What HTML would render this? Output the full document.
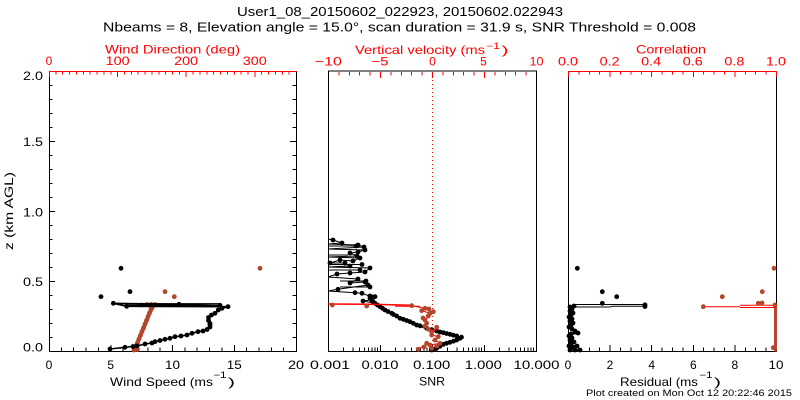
<!DOCTYPE html>
<html><head><meta charset="utf-8"><style>
html,body{margin:0;padding:0;background:#fff;}
svg{display:block;}
text{font-family:"Liberation Sans",sans-serif;}
circle{r:2.4px;}
</style></head><body>
<svg width="800" height="400" viewBox="0 0 800 400" xmlns="http://www.w3.org/2000/svg">
<rect width="800" height="400" fill="#fff"/>
<!-- Titles -->
<text x="237" y="16" font-size="13" textLength="326" lengthAdjust="spacingAndGlyphs">User1_08_20150602_022923, 20150602.022943</text>
<text x="103" y="31.5" font-size="13" textLength="593" lengthAdjust="spacingAndGlyphs">Nbeams = 8, Elevation angle = 15.0°, scan duration = 31.9 s, SNR Threshold = 0.008</text>

<!-- ================= LEFT PANEL ================= -->
<g fill="none" stroke="#000" stroke-width="1" shape-rendering="crispEdges">
<path d="M49.5,71 V351.5 H296.5 V71"/>
<path d="M49.5,351v-6M61.35,351v-3.5M73.7,351v-3.5M86.05,351v-3.5M98.4,351v-3.5M110.75,351v-6M123.1,351v-3.5M135.45,351v-3.5M147.8,351v-3.5M160.15,351v-3.5M172.5,351v-6M184.85,351v-3.5M197.2,351v-3.5M209.55,351v-3.5M221.9,351v-3.5M234.25,351v-6M246.6,351v-3.5M258.95,351v-3.5M271.3,351v-3.5M283.65,351v-3.5"/>
<path d="M49,71.5h6M49,85.5h3.5M49,99.5h3.5M49,113.5h3.5M49,127.5h3.5M49,141.5h6M49,155.5h3.5M49,169.5h3.5M49,183.5h3.5M49,197.5h3.5M49,211.5h6M49,225.5h3.5M49,239.5h3.5M49,253.5h3.5M49,267.5h3.5M49,281.5h6M49,295.5h3.5M49,309.5h3.5M49,323.5h3.5M49,337.5h3.5"/>
<path d="M296,141.5h-6M296,85.5h-3.5M296,99.5h-3.5M296,113.5h-3.5M296,127.5h-3.5M296,155.5h-3.5M296,169.5h-3.5M296,183.5h-3.5M296,197.5h-3.5M296,211.5h-6M296,225.5h-3.5M296,239.5h-3.5M296,253.5h-3.5M296,267.5h-3.5M296,281.5h-6M296,295.5h-3.5M296,309.5h-3.5M296,323.5h-3.5M296,337.5h-3.5"/>
</g>
<g fill="none" stroke="#f00" stroke-width="1" shape-rendering="crispEdges">
<path d="M49,71.5H297"/>
<path d="M49.5,71v6M55.86,71v3.5M62.72,71v3.5M69.58,71v3.5M76.44,71v3.5M83.31,71v3.5M90.17,71v3.5M97.03,71v3.5M103.89,71v3.5M110.75,71v3.5M117.61,71v6M124.47,71v3.5M131.33,71v3.5M138.19,71v3.5M145.06,71v3.5M151.92,71v3.5M158.78,71v3.5M165.64,71v3.5M172.5,71v3.5M179.36,71v3.5M186.22,71v6M193.08,71v3.5M199.94,71v3.5M206.81,71v3.5M213.67,71v3.5M220.53,71v3.5M227.39,71v3.5M234.25,71v3.5M241.11,71v3.5M247.97,71v3.5M254.83,71v6M261.69,71v3.5M268.56,71v3.5M275.42,71v3.5M282.28,71v3.5M289.14,71v3.5"/>
</g>
<g font-size="12" fill="#000">
<text x="43" y="80" text-anchor="end" textLength="20" lengthAdjust="spacingAndGlyphs">2.0</text>
<text x="43" y="146" text-anchor="end" textLength="20" lengthAdjust="spacingAndGlyphs">1.5</text>
<text x="43" y="216.5" text-anchor="end" textLength="20" lengthAdjust="spacingAndGlyphs">1.0</text>
<text x="43" y="286" text-anchor="end" textLength="20" lengthAdjust="spacingAndGlyphs">0.5</text>
<text x="43" y="351.5" text-anchor="end" textLength="20" lengthAdjust="spacingAndGlyphs">0.0</text>
<text transform="translate(13,211) rotate(-90)" text-anchor="middle" textLength="78" lengthAdjust="spacingAndGlyphs">z (km AGL)</text>
<text x="49" y="369" text-anchor="middle">0</text>
<text x="110.75" y="369" text-anchor="middle">5</text>
<text x="172.5" y="369" text-anchor="middle" textLength="15" lengthAdjust="spacingAndGlyphs">10</text>
<text x="234.25" y="369" text-anchor="middle" textLength="15" lengthAdjust="spacingAndGlyphs">15</text>
<text x="296" y="369" text-anchor="middle" textLength="16" lengthAdjust="spacingAndGlyphs">20</text>
<text x="110" y="386" textLength="103" lengthAdjust="spacingAndGlyphs">Wind Speed (ms</text>
<text x="213.5" y="378" font-size="9" textLength="13" lengthAdjust="spacingAndGlyphs">−1</text>
<text x="228" y="386" textLength="7" lengthAdjust="spacingAndGlyphs">)</text>
</g>
<g font-size="12" fill="#f00">
<text x="105" y="53.5" textLength="135" lengthAdjust="spacingAndGlyphs">Wind Direction (deg)</text>
<text x="49" y="65" text-anchor="middle">0</text>
<text x="117.6" y="65" text-anchor="middle" textLength="24" lengthAdjust="spacingAndGlyphs">100</text>
<text x="186.2" y="65" text-anchor="middle" textLength="24" lengthAdjust="spacingAndGlyphs">200</text>
<text x="254.8" y="65" text-anchor="middle" textLength="24" lengthAdjust="spacingAndGlyphs">300</text>
</g>
<!-- left data: red wind direction -->
<g fill="#b4462d" stroke="none">
<polyline points="134,350 138,341 142,331.5 146,322 150,312 153.5,305.5" fill="none" stroke="#b4462d" stroke-width="4"/>
<circle cx="134" cy="350" r="2"/><circle cx="137.5" cy="349.5" r="2"/><circle cx="136" cy="346.5" r="2"/><circle cx="137.5" cy="343" r="2"/>
<circle cx="139" cy="339" r="2"/><circle cx="140.5" cy="335.5" r="2"/><circle cx="142" cy="331.5" r="2"/><circle cx="143.5" cy="328" r="2"/>
<circle cx="145" cy="324" r="2"/><circle cx="146.5" cy="320.5" r="2"/><circle cx="148" cy="316.5" r="2"/><circle cx="149.5" cy="313" r="2"/>
<circle cx="151" cy="309" r="2"/><circle cx="153" cy="306" r="2"/><circle cx="155" cy="304.5" r="2"/><circle cx="151" cy="304.5" r="2"/>
<circle cx="147" cy="304.5" r="2"/><circle cx="141.7" cy="305" r="2"/>
<circle cx="165" cy="291.7" r="2"/><circle cx="174.3" cy="296.7" r="2"/><circle cx="260" cy="268.3" r="2"/>
</g>
<!-- left data: black wind speed -->
<g fill="#000">
<polyline fill="none" stroke="#000" stroke-width="1.6" points="110,349 125,347.3 133,346.5 137,346 145,344 152,343 155,341.7 160,340.5 165,339.3 170,338.3 175,336.7 181,336 187,335 192,333.3 198,331.7 203,331 207,329.5 210,327 210,323.5 208.5,320.5 208.5,317.5 211.5,315 215,313.3 218.3,310 222,308.3 228,306.7 126.7,306.3 113.3,303.3 179,304.3 220,305.3"/>
<line x1="127" y1="305.2" x2="222" y2="305.2" stroke="#000" stroke-width="1.5"/>
<line x1="115" y1="303.6" x2="220" y2="303.6" stroke="#000" stroke-width="1"/>
<circle cx="110" cy="349" r="2"/><circle cx="125" cy="347.3" r="2"/><circle cx="133" cy="346.5" r="2"/><circle cx="137" cy="346" r="2"/>
<circle cx="145" cy="344" r="2"/><circle cx="152" cy="343" r="2"/><circle cx="155" cy="341.7" r="2"/><circle cx="160" cy="340.5" r="2"/>
<circle cx="165" cy="339.3" r="2"/><circle cx="170" cy="338.3" r="2"/><circle cx="175" cy="336.7" r="2"/><circle cx="181" cy="336" r="2"/>
<circle cx="187" cy="335" r="2"/><circle cx="192" cy="333.3" r="2"/><circle cx="198" cy="331.7" r="2"/><circle cx="203" cy="331" r="2"/>
<circle cx="207" cy="329.5" r="2"/><circle cx="210" cy="327" r="2"/><circle cx="210" cy="325" r="2"/><circle cx="210" cy="323.5" r="2"/>
<circle cx="208.5" cy="320.5" r="2"/><circle cx="208.5" cy="317.5" r="2"/><circle cx="211.5" cy="315" r="2"/><circle cx="215" cy="313.3" r="2"/>
<circle cx="218.3" cy="310" r="2"/><circle cx="222" cy="308.3" r="2"/><circle cx="228" cy="306.7" r="2"/><circle cx="220" cy="305.3" r="2"/>
<circle cx="126.7" cy="306.3" r="2"/><circle cx="113.3" cy="303.3" r="2"/><circle cx="179" cy="304.3" r="2"/>
<circle cx="101" cy="296.7" r="2"/><circle cx="130" cy="291.7" r="2"/><circle cx="121" cy="268.3" r="2"/>
</g>

<!-- ================= MIDDLE PANEL ================= -->
<g fill="none" stroke="#000" stroke-width="1" shape-rendering="crispEdges">
<path d="M328.5,71 V351.5 H536.5 V71 H328"/>
<path d="M328.5,351v-6M343.65,351v-3.5M352.81,351v-3.5M359.31,351v-3.5M364.35,351v-3.5M368.46,351v-3.5M371.95,351v-3.5M374.96,351v-3.5M377.62,351v-3.5
M380.5,351v-6M395.65,351v-3.5M404.81,351v-3.5M411.31,351v-3.5M416.35,351v-3.5M420.46,351v-3.5M423.95,351v-3.5M426.96,351v-3.5M429.62,351v-3.5
M432.5,351v-6M447.65,351v-3.5M456.81,351v-3.5M463.31,351v-3.5M468.35,351v-3.5M472.46,351v-3.5M475.95,351v-3.5M478.96,351v-3.5M481.62,351v-3.5
M484.5,351v-6M499.65,351v-3.5M508.81,351v-3.5M515.31,351v-3.5M520.35,351v-3.5M524.46,351v-3.5M527.95,351v-3.5M530.96,351v-3.5M533.62,351v-3.5"/>
</g>
<g fill="none" stroke="#f00" stroke-width="1" shape-rendering="crispEdges">
<path d="M338.9,72v3.5M349.3,72v3.5M359.7,72v3.5M370.1,72v3.5M380.5,72v6M390.9,72v3.5M401.3,72v3.5M411.7,72v3.5M422.1,72v3.5M432.5,72v6M442.9,72v3.5M453.3,72v3.5M463.7,72v3.5M474.1,72v3.5M484.5,72v6M494.9,72v3.5M505.3,72v3.5M515.7,72v3.5M526.1,72v3.5"/>
<line x1="432.5" y1="72" x2="432.5" y2="351" stroke-dasharray="1,3"/>
</g>
<g font-size="12" fill="#000">
<text x="330" y="369" text-anchor="middle" textLength="40" lengthAdjust="spacingAndGlyphs">0.001</text>
<text x="380" y="369" text-anchor="middle" textLength="37" lengthAdjust="spacingAndGlyphs">0.010</text>
<text x="431.7" y="369" text-anchor="middle" textLength="37" lengthAdjust="spacingAndGlyphs">0.100</text>
<text x="483.3" y="369" text-anchor="middle" textLength="37" lengthAdjust="spacingAndGlyphs">1.000</text>
<text x="536.5" y="369" text-anchor="middle" textLength="46" lengthAdjust="spacingAndGlyphs">10.000</text>
<text x="432" y="385.5" text-anchor="middle" textLength="26" lengthAdjust="spacingAndGlyphs">SNR</text>
</g>
<g font-size="12" fill="#f00">
<text x="355" y="54" textLength="130" lengthAdjust="spacingAndGlyphs">Vertical velocity (ms</text>
<text x="486" y="49" font-size="9" textLength="14" lengthAdjust="spacingAndGlyphs">−1</text>
<text x="501.5" y="54" textLength="7" lengthAdjust="spacingAndGlyphs">)</text>
<text x="328.3" y="65.5" text-anchor="middle" textLength="27" lengthAdjust="spacingAndGlyphs">−10</text>
<text x="380" y="65.5" text-anchor="middle" textLength="17" lengthAdjust="spacingAndGlyphs">−5</text>
<text x="432.5" y="65.5" text-anchor="middle">0</text>
<text x="483.5" y="65.5" text-anchor="middle">5</text>
<text x="536.5" y="65.5" text-anchor="middle" textLength="14" lengthAdjust="spacingAndGlyphs">10</text>
</g>
<!-- middle data black SNR -->
<g fill="#000">
<polyline fill="none" stroke="#000" stroke-width="1" points="375,303.3 363,301 370,300 372,297 362,293.3 355,292.7 328,291 338,289.3 368,285 365,282 350,283 358,279 328,277 337,274 350,273 365,272 370,268 328,267 350,266 345,263 330,263 340,260 353,261 360,258 328,257 357,256 350,253 358,252 365,250 328,249 364,247 358,245 328,244 342,243 333,240 328,239"/>
<line x1="328" y1="264.5" x2="362" y2="264.5" stroke="#000"/>
<line x1="328" y1="270" x2="360" y2="270" stroke="#000"/>
<line x1="328" y1="246" x2="356" y2="246" stroke="#000"/>
<line x1="328" y1="255" x2="348" y2="255" stroke="#000"/>
<line x1="340" y1="281" x2="366" y2="281" stroke="#000"/>
<line x1="340" y1="287" x2="370" y2="287" stroke="#000"/>
<polyline fill="none" stroke="#000" stroke-width="2.2" points="431.7,350 436.7,348.3 443.3,344.3 450,342.3 456.7,340 460,338.3 456.7,336 450,334.3 443.3,332.7 436.7,331 426.7,328.3 413.3,323.3 400,318.3 391.7,313.3 385,310 380,306.7 375,303.3 371.7,300 370,296 375,296.7"/>
<circle cx="431.7" cy="350" r="2"/><circle cx="434" cy="349" r="2"/><circle cx="436.7" cy="348.3" r="2"/><circle cx="440" cy="346.3" r="2"/>
<circle cx="443.3" cy="344.3" r="2"/><circle cx="446.5" cy="343.3" r="2"/><circle cx="450" cy="342.3" r="2"/><circle cx="453.5" cy="341.2" r="2"/>
<circle cx="456.7" cy="340" r="2"/><circle cx="460" cy="338.3" r="2"/><circle cx="461.5" cy="337.2" r="2"/><circle cx="456.7" cy="336" r="2"/>
<circle cx="453.3" cy="335.2" r="2"/><circle cx="450" cy="334.3" r="2"/><circle cx="446.6" cy="333.5" r="2"/><circle cx="443.3" cy="332.7" r="2"/>
<circle cx="440" cy="332" r="2"/><circle cx="436.7" cy="331" r="2"/><circle cx="431.7" cy="329.7" r="2"/><circle cx="426.7" cy="328.3" r="2"/>
<circle cx="420" cy="325.8" r="2"/><circle cx="416.7" cy="325" r="2"/><circle cx="413.3" cy="323.3" r="2"/><circle cx="410" cy="321.7" r="2"/>
<circle cx="406.7" cy="320.5" r="2"/><circle cx="403.3" cy="319.3" r="2"/><circle cx="400" cy="318.3" r="2"/><circle cx="396.7" cy="316" r="2"/>
<circle cx="393.5" cy="314.5" r="2"/><circle cx="391.7" cy="313.3" r="2"/><circle cx="388" cy="311.5" r="2"/><circle cx="385" cy="310" r="2"/>
<circle cx="382.5" cy="308.3" r="2"/><circle cx="380" cy="306.7" r="2"/><circle cx="377.5" cy="305" r="2"/><circle cx="375" cy="303.3" r="2"/>
<circle cx="373" cy="301.5" r="2"/><circle cx="371.7" cy="300" r="2"/><circle cx="370" cy="298" r="2"/><circle cx="370" cy="296" r="2"/>
<circle cx="375" cy="296.7" r="2"/><circle cx="363" cy="301" r="2"/><circle cx="372" cy="297" r="2"/><circle cx="362" cy="293.3" r="2"/>
<circle cx="355" cy="292.7" r="2"/><circle cx="338" cy="289.3" r="2"/><circle cx="368" cy="285" r="2"/><circle cx="365" cy="282" r="2"/>
<circle cx="350" cy="283" r="2"/><circle cx="358" cy="279" r="2"/><circle cx="337" cy="274" r="2"/><circle cx="350" cy="273" r="2"/>
<circle cx="365" cy="272" r="2"/><circle cx="370" cy="268" r="2"/><circle cx="350" cy="266" r="2"/><circle cx="345" cy="263" r="2"/>
<circle cx="330" cy="263" r="2"/><circle cx="340" cy="260" r="2"/><circle cx="353" cy="261" r="2"/><circle cx="360" cy="258" r="2"/>
<circle cx="357" cy="256" r="2"/><circle cx="350" cy="253" r="2"/><circle cx="358" cy="252" r="2"/><circle cx="365" cy="250" r="2"/>
<circle cx="364" cy="247" r="2"/><circle cx="358" cy="245" r="2"/><circle cx="342" cy="243" r="2"/><circle cx="333" cy="240" r="2"/>
<circle cx="362" cy="264.5" r="2"/><circle cx="360" cy="270" r="2"/><circle cx="356" cy="246" r="2"/><circle cx="366" cy="281" r="2"/><circle cx="370" cy="287" r="2"/>
</g>
<!-- middle data red vertical velocity -->
<g fill="#b4462d">
<polyline fill="none" stroke="#f00" stroke-width="1.5" points="328,304 370,304.3 411.7,305.2"/>
<line x1="395" y1="306.3" x2="420" y2="306.3" stroke="#f00" stroke-width="1"/>
<polyline fill="none" stroke="#f00" stroke-width="1" points="411.7,305.7 425,308.3 421.7,310.7 430,313.3 428.3,316 425,320 426.7,323.3 425,326 428.3,329.3 431.7,331.7 436.7,327.3 431.7,335 438.3,336.7 435,340 440,343.3 430,345 426.7,343.3 418.3,349.3"/>
<circle cx="332.3" cy="305" r="2.2"/><circle cx="366.7" cy="306" r="2.2"/><circle cx="411.7" cy="305.7" r="2.2"/>
<circle cx="425" cy="308.3" r="2.2"/><circle cx="421.7" cy="310.7" r="2.2"/><circle cx="430" cy="313.3" r="2.2"/><circle cx="433.3" cy="311.7" r="2.2"/>
<circle cx="428.3" cy="316" r="2.2"/><circle cx="425" cy="320" r="2.2"/><circle cx="426.7" cy="323.3" r="2.2"/><circle cx="425" cy="326" r="2.2"/>
<circle cx="428.3" cy="329.3" r="2.2"/><circle cx="431.7" cy="331.7" r="2.2"/><circle cx="436.7" cy="327.3" r="2.2"/><circle cx="431.7" cy="335" r="2.2"/>
<circle cx="438.3" cy="336.7" r="2.2"/><circle cx="435" cy="340" r="2.2"/><circle cx="440" cy="343.3" r="2.2"/><circle cx="430" cy="345" r="2.2"/>
<circle cx="426.7" cy="343.3" r="2.2"/><circle cx="418.3" cy="349.3" r="2.2"/><circle cx="431.7" cy="348.3" r="2.2"/><circle cx="436.7" cy="346" r="2.2"/>
<circle cx="423" cy="318" r="2.2"/><circle cx="429" cy="309" r="2.2"/><circle cx="424" cy="347" r="2.2"/>
</g>

<!-- ================= RIGHT PANEL ================= -->
<g fill="none" stroke="#000" stroke-width="1" shape-rendering="crispEdges">
<path d="M568.5,71 V351.5 H776.5 V71"/>
<path d="M568.5,351v-6M578.9,351v-3.5M589.3,351v-3.5M599.7,351v-3.5M610.1,351v-6M620.5,351v-3.5M630.9,351v-3.5M641.3,351v-3.5M651.7,351v-6M662.1,351v-3.5M672.5,351v-3.5M682.9,351v-3.5M693.3,351v-6M703.7,351v-3.5M714.1,351v-3.5M724.5,351v-3.5M734.9,351v-6M745.3,351v-3.5M755.7,351v-3.5M766.1,351v-3.5"/>
</g>
<g fill="none" stroke="#f00" stroke-width="1" shape-rendering="crispEdges">
<path d="M568,71.5H777"/>
<path d="M568.5,71v6M578.9,71v3.5M589.3,71v3.5M599.7,71v3.5M610.1,71v6M620.5,71v3.5M630.9,71v3.5M641.3,71v3.5M651.7,71v6M662.1,71v3.5M672.5,71v3.5M682.9,71v3.5M693.3,71v6M703.7,71v3.5M714.1,71v3.5M724.5,71v3.5M734.9,71v6M745.3,71v3.5M755.7,71v3.5M766.1,71v3.5M776.5,71v6"/>
</g>
<g font-size="12" fill="#000">
<text x="568" y="369" text-anchor="middle">0</text>
<text x="610" y="369" text-anchor="middle">2</text>
<text x="651.7" y="369" text-anchor="middle">4</text>
<text x="693.3" y="369" text-anchor="middle">6</text>
<text x="734.9" y="369" text-anchor="middle">8</text>
<text x="776" y="369" text-anchor="middle" textLength="15" lengthAdjust="spacingAndGlyphs">10</text>
<text x="620" y="386" textLength="78" lengthAdjust="spacingAndGlyphs">Residual (ms</text>
<text x="699.5" y="378" font-size="9" textLength="13" lengthAdjust="spacingAndGlyphs">−1</text>
<text x="714" y="386" textLength="7" lengthAdjust="spacingAndGlyphs">)</text>
<text x="586" y="396" font-size="9" textLength="206" lengthAdjust="spacingAndGlyphs">Plot created on Mon Oct 12 20:22:46 2015</text>
</g>
<g font-size="12" fill="#f00">
<text x="636" y="53.5" textLength="70" lengthAdjust="spacingAndGlyphs">Correlation</text>
<text x="568" y="65.5" text-anchor="middle" textLength="20" lengthAdjust="spacingAndGlyphs">0.0</text>
<text x="609.6" y="65.5" text-anchor="middle" textLength="20" lengthAdjust="spacingAndGlyphs">0.2</text>
<text x="651.2" y="65.5" text-anchor="middle" textLength="20" lengthAdjust="spacingAndGlyphs">0.4</text>
<text x="692.8" y="65.5" text-anchor="middle" textLength="20" lengthAdjust="spacingAndGlyphs">0.6</text>
<text x="734.4" y="65.5" text-anchor="middle" textLength="20" lengthAdjust="spacingAndGlyphs">0.8</text>
<text x="776" y="65.5" text-anchor="middle" textLength="20" lengthAdjust="spacingAndGlyphs">1.0</text>
</g>
<!-- right data: black residual -->
<g fill="#000">
<polyline fill="none" stroke="#000" stroke-width="2" points="574,306 572,309 570,311 573,313 571,315 569,317 572,319 570,321 573,323 571,325 569,327 572,329 575,331 578,333 571,334 569,336 572,338 570,340 574,342 571,344 569,346 577,346 572,348 575,350 580,350"/>
<polyline fill="none" stroke="#000" stroke-width="1" points="575,304.5 645,304.5"/>
<polyline fill="none" stroke="#000" stroke-width="1" points="575,307 610,307 612,306.2 645,306.2"/>
<circle cx="570" cy="307" r="2"/><circle cx="574" cy="306" r="2"/><circle cx="572" cy="309" r="2"/><circle cx="570" cy="311" r="2"/>
<circle cx="573" cy="313" r="2"/><circle cx="571" cy="315" r="2"/><circle cx="569" cy="317" r="2"/><circle cx="572" cy="319" r="2"/>
<circle cx="570" cy="321" r="2"/><circle cx="573" cy="323" r="2"/><circle cx="571" cy="325" r="2"/><circle cx="569" cy="327" r="2"/>
<circle cx="572" cy="329" r="2"/><circle cx="575" cy="331" r="2"/><circle cx="578" cy="333" r="2"/><circle cx="571" cy="334" r="2"/>
<circle cx="569" cy="336" r="2"/><circle cx="572" cy="338" r="2"/><circle cx="570" cy="340" r="2"/><circle cx="574" cy="342" r="2"/>
<circle cx="571" cy="344" r="2"/><circle cx="569" cy="346" r="2"/><circle cx="577" cy="346" r="2"/><circle cx="572" cy="348" r="2"/>
<circle cx="575" cy="350" r="2"/><circle cx="580" cy="350" r="2"/><circle cx="570" cy="350" r="2"/>
<circle cx="577.3" cy="268.3" r="2"/><circle cx="602.3" cy="291.7" r="2"/><circle cx="616.7" cy="296.7" r="2"/><circle cx="602.3" cy="303.3" r="2"/>
<circle cx="645" cy="304.8" r="2"/><circle cx="645" cy="306.5" r="2"/>
</g>
<!-- right data: red correlation -->
<g fill="#b4462d">
<rect x="774" y="304.5" width="3" height="47"/>
<polyline fill="none" stroke="#f00" stroke-width="1" points="703,306.7 740,306.7"/>
<polyline fill="none" stroke="#f00" stroke-width="1" points="740,305.2 776,305.2"/>
<polyline fill="none" stroke="#f00" stroke-width="1" points="740,307.5 776,307.5"/>
<circle cx="703.3" cy="306.7" r="2"/><circle cx="722.3" cy="296.7" r="2"/><circle cx="762.3" cy="291.7" r="2"/><circle cx="774" cy="268.3" r="2"/>
<circle cx="758.3" cy="303.3" r="2"/><circle cx="762" cy="303" r="2"/><circle cx="773.3" cy="347.7" r="2"/><circle cx="775" cy="305" r="2"/>
</g>
</svg>
</body></html>
